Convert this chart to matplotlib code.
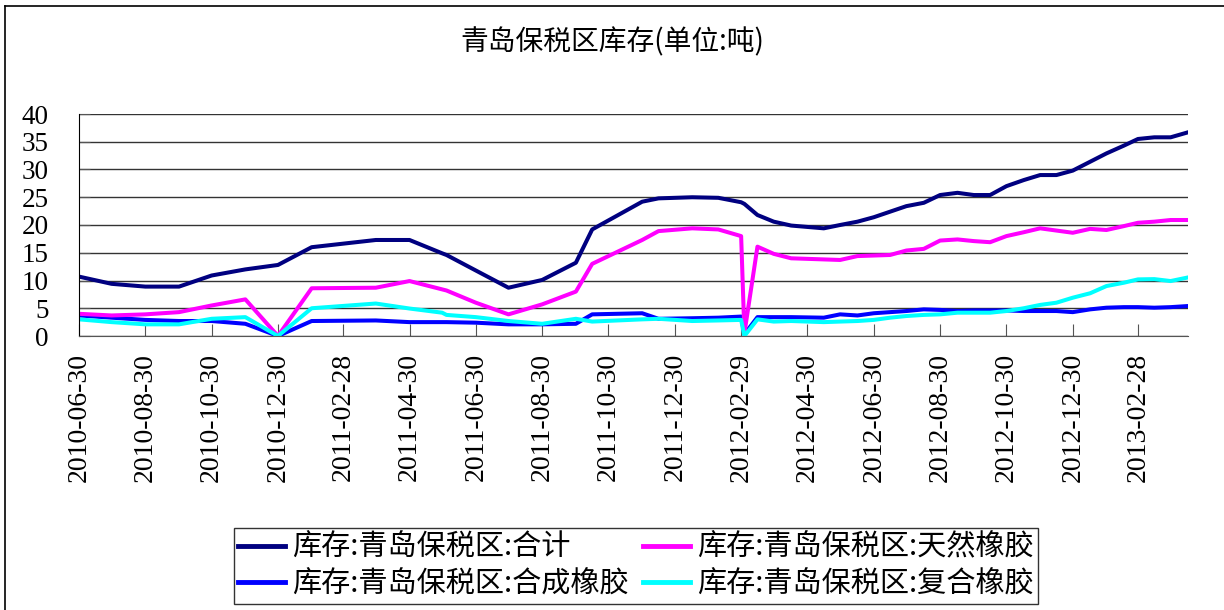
import pandas as pd
import matplotlib
matplotlib.use("Agg")
import matplotlib.pyplot as plt
from matplotlib.lines import Line2D

plt.rcParams['font.family'] = ['Noto Sans CJK SC', 'DejaVu Sans']

# data points (unit: 吨)
dates = ["2010-06-30", "2010-07-30", "2010-08-30", "2010-09-30", "2010-10-30",
         "2010-11-30", "2010-12-30", "2011-01-30", "2011-03-30", "2011-04-30",
         "2011-05-30", "2011-06-03", "2011-06-30", "2011-07-30", "2011-08-30",
         "2011-09-30", "2011-10-15", "2011-11-30", "2011-12-15", "2012-01-15",
         "2012-02-08", "2012-02-29", "2012-03-03", "2012-03-15", "2012-03-30",
         "2012-04-15", "2012-05-15", "2012-05-30", "2012-06-15", "2012-06-30",
         "2012-07-15", "2012-07-30", "2012-08-15", "2012-08-30", "2012-09-15",
         "2012-09-30", "2012-10-15", "2012-10-30", "2012-11-15", "2012-11-30",
         "2012-12-15", "2012-12-30", "2013-01-15", "2013-01-30", "2013-02-15",
         "2013-02-28", "2013-03-15", "2013-03-30", "2013-04-15"]

total = [10.7, 9.4, 8.9, 8.9, 10.9, 12.0, 12.8, 16.0, 17.3, 17.3,
         14.9, 14.6, 11.8, 8.7, 10.1, 13.2, 19.2, 24.2, 24.8, 25.0,
         24.9, 24.1, 23.8, 21.8, 20.6, 19.9, 19.4, 20.0, 20.6, 21.4,
         22.4, 23.4, 24.0, 25.4, 25.8, 25.4, 25.4, 27.0, 28.1, 29.0,
         29.0, 29.8, 31.4, 32.9, 34.3, 35.5, 35.8, 35.8, 36.7]

natural = [4.0, 3.7, 3.9, 4.3, 5.5, 6.6, 0.0, 8.6, 8.7, 9.9,
           8.4, 8.2, 6.0, 3.9, 5.7, 8.0, 13.0, 17.3, 18.9, 19.4,
           19.2, 18.0, 0.5, 16.1, 14.8, 14.0, 13.8, 13.7, 14.4, 14.5,
           14.6, 15.4, 15.7, 17.2, 17.4, 17.1, 16.9, 18.0, 18.7, 19.4,
           19.0, 18.6, 19.3, 19.1, 19.8, 20.4, 20.6, 20.9, 20.9]

synthetic = [3.7, 3.3, 2.9, 2.7, 2.7, 2.2, 0.0, 2.7, 2.8, 2.5,
             2.5, 2.5, 2.4, 2.1, 2.1, 2.2, 3.9, 4.1, 3.1, 3.2,
             3.3, 3.5, 0.3, 3.4, 3.4, 3.4, 3.3, 3.9, 3.7, 4.1,
             4.3, 4.5, 4.8, 4.7, 4.5, 4.6, 4.6, 4.6, 4.5, 4.5,
             4.5, 4.3, 4.8, 5.1, 5.2, 5.2, 5.1, 5.2, 5.4]

compound = [3.0, 2.5, 2.1, 2.1, 3.1, 3.4, 0.0, 5.0, 5.85, 4.95,
            4.2, 3.8, 3.4, 2.7, 2.2, 3.1, 2.6, 3.0, 3.1, 2.7,
            2.8, 2.9, 0.0, 3.0, 2.6, 2.7, 2.5, 2.6, 2.7, 2.9,
            3.3, 3.6, 3.8, 3.9, 4.2, 4.2, 4.2, 4.5, 5.0, 5.6,
            6.0, 6.9, 7.7, 9.0, 9.6, 10.2, 10.25, 9.9, 10.55]

tick_dates = ["2010-06-30", "2010-08-30", "2010-10-30", "2010-12-30",
              "2011-02-28", "2011-04-30", "2011-06-30", "2011-08-30",
              "2011-10-30", "2011-12-30", "2012-02-29", "2012-04-30",
              "2012-06-30", "2012-08-30", "2012-10-30", "2012-12-30",
              "2013-02-28"]

x = pd.to_datetime(dates)
tx = pd.to_datetime(tick_dates)

fig = plt.figure(figsize=(12.24, 6.10), dpi=100)
ax = fig.add_axes([79/1224, 1 - 336/610, (1188 - 79)/1224, (336 - 114)/610])

lw = 2.9
ax.plot(x, total, color='#000080', lw=lw, label='库存:青岛保税区:合计')
ax.plot(x, synthetic, color='#0000FF', lw=lw, label='库存:青岛保税区:合成橡胶')
ax.plot(x, natural, color='#FF00FF', lw=lw, label='库存:青岛保税区:天然橡胶')
ax.plot(x, compound, color='#00FFFF', lw=lw, label='库存:青岛保税区:复合橡胶')

ax.set_xlim(x[0], x[-1])
ax.set_ylim(0, 40)
ax.set_yticks(range(0, 41, 5))
ax.yaxis.grid(True, color='#333333', lw=1)
ax.set_axisbelow(True)

ax.set_xticks(tx)
ax.set_xticklabels(tick_dates, rotation=90, family='Liberation Serif', fontsize=20)
for lab in ax.get_yticklabels():
    lab.set_family('Liberation Serif')
    lab.set_fontsize(19.5)

ax.tick_params(axis='x', direction='in', length=9, color='#555555', pad=12)
ax.tick_params(axis='y', direction='in', length=8, color='#555555', pad=22)

ax.spines['top'].set_visible(False)
ax.spines['right'].set_visible(False)
ax.spines['left'].set_color('black')
ax.spines['bottom'].set_color('#555555')

fig.text(0.5, 0.931, '青岛保税区库存(单位:吨)', ha='center', va='center', fontsize=20)

leg = fig.legend(loc='center', bbox_to_anchor=(636/1224, 1 - 566/610), ncol=2,
                 fontsize=21, frameon=True, fancybox=False, handlelength=1.6,
                 columnspacing=0.5, handletextpad=0.25, labelspacing=0.22,
                 borderpad=0.15, borderaxespad=0)
leg.get_frame().set_edgecolor('black')
leg.get_frame().set_linewidth(1)
for h in leg.get_lines():
    h.set_linewidth(3.5)

# partial outer border (left and top)
fig.add_artist(Line2D([5/1224, 5/1224], [0, 1 - 6/610], color='black', lw=1.2))
fig.add_artist(Line2D([5/1224, 1], [1 - 6/610, 1 - 6/610], color='black', lw=1.2))

fig.savefig('out.png', dpi=100)
